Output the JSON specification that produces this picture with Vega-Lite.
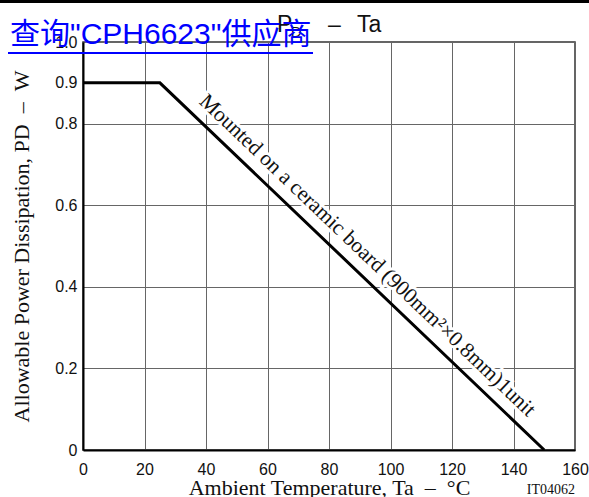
{
  "$schema": "https://vega.github.io/schema/vega-lite/v6.json",
  "width": 492,
  "height": 408,
  "autosize": "none",
  "padding": {"left": 83, "top": 42, "right": 14, "bottom": 47},
  "background": "white",
  "data": {"values": [
    {"ta": 0, "pd": 0.9},
    {"ta": 25, "pd": 0.9},
    {"ta": 150, "pd": 0}
  ]},
  "layer": [
    {
      "mark": {"type": "line", "color": "#000", "strokeWidth": 3},
      "encoding": {
        "x": {
          "field": "ta",
          "type": "quantitative",
          "scale": {"domain": [0, 160], "nice": false},
          "axis": {
            "values": [0, 20, 40, 60, 80, 100, 120, 140, 160],
            "title": "Ambient Temperature, Ta\u00a0\u00a0–\u00a0\u00a0°C",
            "titleY": 44,
            "titleBaseline": "alphabetic",
            "labelPadding": 11,
            "labelFlush": false
          }
        },
        "y": {
          "field": "pd",
          "type": "quantitative",
          "scale": {"domain": [0, 1], "nice": false},
          "axis": {
            "values": [0, 0.2, 0.4, 0.6, 0.8, 0.9, 1],
            "labelExpr": "datum.value == 0 ? '0' : format(datum.value, '.1f')",
            "title": "Allowable Power Dissipation, PD\u00a0\u00a0–\u00a0\u00a0W",
            "titleX": -62,
            "titleY": 204,
            "titleBaseline": "middle",
            "labelPadding": 6,
            "labelFlush": false,
            "gridOpacity": {"condition": {"test": "datum.value == 0.9", "value": 0}, "value": 1}
          }
        }
      }
    },
    {
      "data": {"values": [{"label": "Mounted on a ceramic board (900mm²×0.8mm)1unit"}]},
      "mark": {
        "type": "text",
        "font": "Liberation Serif",
        "fontSize": 21.5,
        "angle": 43.7,
        "align": "center",
        "baseline": "middle",
        "fill": "white",
        "stroke": "white",
        "strokeWidth": 6
      },
      "encoding": {
        "x": {"datum": 92.4, "type": "quantitative"},
        "y": {"datum": 0.476, "type": "quantitative"},
        "text": {"field": "label"}
      }
    },
    {
      "data": {"values": [{"label": "Mounted on a ceramic board (900mm²×0.8mm)1unit"}]},
      "mark": {
        "type": "text",
        "font": "Liberation Serif",
        "fontSize": 21.5,
        "angle": 43.7,
        "align": "center",
        "baseline": "middle",
        "color": "#111"
      },
      "encoding": {
        "x": {"datum": 92.4, "type": "quantitative"},
        "y": {"datum": 0.476, "type": "quantitative"},
        "text": {"field": "label"}
      }
    },
    {
      "data": {"values": [{"label": "IT04062"}]},
      "mark": {
        "type": "text",
        "font": "Liberation Serif",
        "fontSize": 14,
        "align": "right",
        "baseline": "alphabetic",
        "dy": 44,
        "color": "#111"
      },
      "encoding": {
        "x": {"datum": 160, "type": "quantitative"},
        "y": {"datum": 0, "type": "quantitative"},
        "text": {"field": "label"}
      }
    },
    {
      "data": {"values": [{"label": "P"}]},
      "mark": {
        "type": "text",
        "font": "Liberation Sans",
        "fontSize": 23,
        "align": "left",
        "baseline": "alphabetic",
        "color": "#111"
      },
      "encoding": {
        "x": {"datum": 63.1, "type": "quantitative"},
        "y": {"datum": 1.0245, "type": "quantitative"},
        "text": {"field": "label"}
      }
    },
    {
      "data": {"values": [{"label": "D"}]},
      "mark": {
        "type": "text",
        "font": "Liberation Sans",
        "fontSize": 15,
        "align": "left",
        "baseline": "alphabetic",
        "dy": 5,
        "color": "#111"
      },
      "encoding": {
        "x": {"datum": 67.6, "type": "quantitative"},
        "y": {"datum": 1.0245, "type": "quantitative"},
        "text": {"field": "label"}
      }
    },
    {
      "data": {"values": [{"label": "–\u2002\u2009Ta"}]},
      "mark": {
        "type": "text",
        "font": "Liberation Sans",
        "fontSize": 23,
        "align": "left",
        "baseline": "alphabetic",
        "color": "#111"
      },
      "encoding": {
        "x": {"datum": 79.7, "type": "quantitative"},
        "y": {"datum": 1.0245, "type": "quantitative"},
        "text": {"field": "label"}
      }
    },
    {
      "data": {"values": [{}]},
      "mark": {"type": "rule", "color": "#000", "strokeWidth": 3},
      "encoding": {
        "x": {"datum": -27, "type": "quantitative"},
        "x2": {"datum": 164.6},
        "y": {"datum": 1.0993, "type": "quantitative"}
      }
    },
    {
      "data": {"values": [{"label": "查询\"CPH6623\"供应商"}]},
      "mark": {
        "type": "text",
        "font": "Liberation Sans, Noto Sans CJK SC",
        "fontSize": 30,
        "align": "left",
        "baseline": "alphabetic",
        "color": "#0000ff"
      },
      "encoding": {
        "x": {"datum": -23.74, "type": "quantitative"},
        "y": {"datum": 0.9951, "type": "quantitative"},
        "text": {"field": "label"}
      }
    },
    {
      "data": {"values": [{}]},
      "mark": {"type": "rule", "color": "#0000ff", "strokeWidth": 2},
      "encoding": {
        "x": {"datum": -24.39, "type": "quantitative"},
        "x2": {"datum": 74.8},
        "y": {"datum": 0.973, "type": "quantitative"}
      }
    }
  ],
  "config": {
    "view": {"stroke": "#333", "strokeWidth": 1.5},
    "axis": {
      "ticks": false,
      "grid": true,
      "gridColor": "#666",
      "gridWidth": 1,
      "domainColor": "#000",
      "domainWidth": 2,
      "labelFont": "Liberation Sans",
      "labelFontSize": 16,
      "labelColor": "#111",
      "titleFont": "Liberation Serif",
      "titleFontSize": 22,
      "titleFontWeight": "normal",
      "titleColor": "#111"
    }
  }
}
